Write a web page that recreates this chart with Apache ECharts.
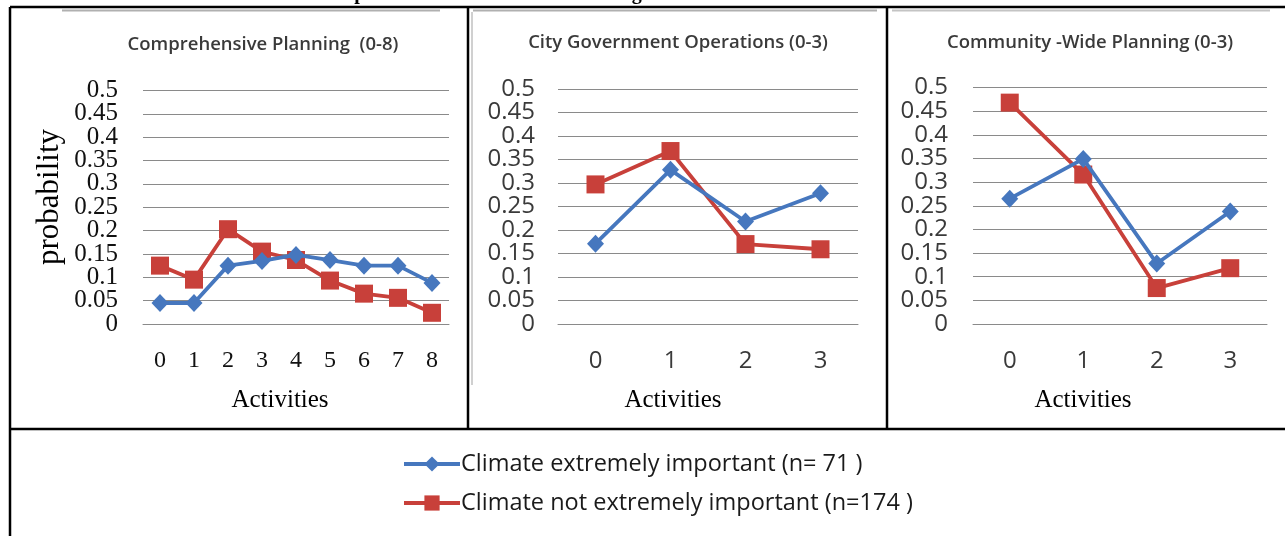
<!DOCTYPE html>
<html>
<head>
<meta charset="utf-8">
<script src="https://cdn.jsdelivr.net/npm/echarts@6/dist/echarts.min.js"></script>
<style>
  html, body { margin: 0; padding: 0; background: #fff; }
  #chart { width: 1285px; height: 536px; }
</style>
</head>
<body>
<div id="chart"></div>
<script>
// Activity counts for each planning domain
const comprehensiveCats = ['0', '1', '2', '3', '4', '5', '6', '7', '8'];
const shortCats = ['0', '1', '2', '3'];

// Probabilities, respondents who rate climate extremely important (n=71)
const comprehensiveImportant = [0.045, 0.045, 0.125, 0.135, 0.148, 0.137, 0.125, 0.125, 0.088];
const cityOpsImportant = [0.171, 0.328, 0.218, 0.278];
const communityImportant = [0.265, 0.349, 0.128, 0.238];

// Probabilities, respondents who do not (n=174)
const comprehensiveNotImportant = [0.125, 0.095, 0.203, 0.155, 0.137, 0.093, 0.065, 0.056, 0.024];
const cityOpsNotImportant = [0.297, 0.368, 0.170, 0.159];
const communityNotImportant = [0.468, 0.316, 0.076, 0.118];

const panelTitles = ['Comprehensive Planning  (0-8)', 'City Government Operations (0-3)', 'Community -Wide Planning (0-3)'];
const seriesNames = ['Climate extremely important (n= 71 )', 'Climate not extremely important (n=174 )'];

const BLUE = '#4677BE';
const RED = '#C8403A';
const GRID = '#8a8a8a';

const chart = echarts.init(document.getElementById('chart'), null, { renderer: 'canvas' });

const panelRects = [
  { left: 143, top: 90.5, width: 306, height: 233.5 },
  { left: 558, top: 89, width: 300, height: 235 },
  { left: 973, top: 87.5, width: 294, height: 236.5 }
];
// Each panel gets a second, overlaid grid whose y axis carries only the end labels (0 and 0.5),
// so the tightly packed inner labels are never dropped for overlapping them.
const grids = panelRects.concat(panelRects.map(r => Object.assign({}, r)));

const xCats = [comprehensiveCats, shortCats, shortCats];
const yFonts = [
  { fontFamily: 'Liberation Serif', fontSize: 25, color: '#111', margin: 25 },
  { fontFamily: 'Open Sans', fontSize: 24, color: '#3a3a3a', margin: 23 },
  { fontFamily: 'Open Sans', fontSize: 24, color: '#3a3a3a', margin: 25 }
];

const fmt = v => String(Math.round(v * 100) / 100);

const xAxes = xCats.map((cats, i) => ({
  type: 'category',
  gridIndex: i,
  data: cats,
  boundaryGap: true,
  axisLine: { show: true, lineStyle: { color: GRID, width: 1 } },
  axisTick: { show: false },
  axisLabel: {
    fontFamily: yFonts[i].fontFamily,
    fontSize: 24,
    color: yFonts[i].color,
    margin: 25
  }
})).concat(xCats.map((cats, i) => ({
  type: 'category',
  gridIndex: i + 3,
  data: cats,
  show: false
})));

const yAxes = panelRects.map((g, i) => ({
  type: 'value',
  gridIndex: i,
  min: 0,
  max: 0.5,
  interval: 0.05,
  axisLine: { show: false },
  axisTick: { show: false },
  splitLine: { lineStyle: { color: GRID, width: 1 } },
  axisLabel: {
    fontFamily: yFonts[i].fontFamily,
    fontSize: yFonts[i].fontSize,
    color: yFonts[i].color,
    margin: yFonts[i].margin,
    showMinLabel: false,
    showMaxLabel: false,
    formatter: fmt
  }
})).concat(panelRects.map((g, i) => ({
  type: 'value',
  gridIndex: i + 3,
  min: 0,
  max: 0.5,
  interval: 0.5,
  axisLine: { show: false },
  axisTick: { show: false },
  splitLine: { show: false },
  axisLabel: {
    fontFamily: yFonts[i].fontFamily,
    fontSize: yFonts[i].fontSize,
    color: yFonts[i].color,
    margin: yFonts[i].margin,
    showMinLabel: true,
    showMaxLabel: true,
    formatter: fmt
  }
})));

const importantSets = [comprehensiveImportant, cityOpsImportant, communityImportant];
const notImportantSets = [comprehensiveNotImportant, cityOpsNotImportant, communityNotImportant];

const series = [];
for (let i = 0; i < 3; i++) {
  series.push({
    name: seriesNames[0],
    type: 'line',
    xAxisIndex: i,
    yAxisIndex: i,
    data: importantSets[i],
    symbol: 'diamond',
    symbolSize: [17, 18],
    lineStyle: { color: BLUE, width: 3.8 },
    itemStyle: { color: BLUE },
    z: 3
  });
  series.push({
    name: seriesNames[1],
    type: 'line',
    xAxisIndex: i,
    yAxisIndex: i,
    data: notImportantSets[i],
    symbol: 'rect',
    symbolSize: 18,
    lineStyle: { color: RED, width: 3.8 },
    itemStyle: { color: RED },
    z: 2
  });
}

// Table rules and chart frames
const lines = [
  [10, 7, 1285, 7, '#000', 2.5],
  [10, 7, 10, 536, '#000', 2.5],
  [10, 429, 1285, 429, '#000', 2.5],
  [468, 7, 468, 429, '#000', 2.5],
  [887, 7, 887, 429, '#000', 2.5],
  [62, 10.5, 440, 10.5, '#b0b0b0', 2],
  [473, 10.5, 877, 10.5, '#b0b0b0', 2],
  [892, 10.5, 1270, 10.5, '#c4c4c4', 2],
  [472, 12, 472, 385, '#c0c0c0', 1.5]
];
const graphic = lines.map(l => ({
  type: 'line',
  silent: true,
  z: 10,
  shape: { x1: l[0], y1: l[1], x2: l[2], y2: l[3] },
  style: { stroke: l[4], lineWidth: l[5] }
}));

// Caption above the table (mostly cut off at the top edge)
graphic.push({
  type: 'text', x: 628, y: -16, z: 1,
  style: {
    text: 'Respondents Who Indicated a Strong Public Goods Climate Motivation',
    font: 'bold 20px "Liberation Serif"', fill: '#000', align: 'center', verticalAlign: 'top'
  }
});

const titlePos = [[263, 45], [678, 43], [1090, 43]];
panelTitles.forEach((t, i) => {
  graphic.push({
    type: 'text', x: titlePos[i][0], y: titlePos[i][1],
    style: {
      text: t, font: '600 18.5px "Open Sans"', fill: '#3a3a3a',
      align: 'center', verticalAlign: 'middle'
    }
  });
});

const activitiesPos = [[280, 400], [673, 400], [1083, 400]];
activitiesPos.forEach(p => {
  graphic.push({
    type: 'text', x: p[0], y: p[1],
    style: {
      text: 'Activities', font: '25px "Liberation Serif"', fill: '#000',
      align: 'center', verticalAlign: 'middle'
    }
  });
});

graphic.push({
  type: 'text', x: 50, y: 197, rotation: Math.PI / 2,
  style: {
    text: 'probability', font: '31px "Liberation Serif"', fill: '#000',
    align: 'center', verticalAlign: 'middle'
  }
});

chart.setOption({
  backgroundColor: '#fff',
  animation: false,
  grid: grids,
  xAxis: xAxes,
  yAxis: yAxes,
  legend: {
    orient: 'vertical',
    left: 397,
    top: 447,
    itemWidth: 56,
    itemHeight: 19,
    itemGap: 15,
    data: seriesNames,
    lineStyle: { width: 4 },
    textStyle: { fontFamily: 'Open Sans', fontSize: 23.5, color: '#1a1a1a', padding: [0, 0, 0, -4] }
  },
  series: series,
  graphic: graphic
});
</script>
</body>
</html>
